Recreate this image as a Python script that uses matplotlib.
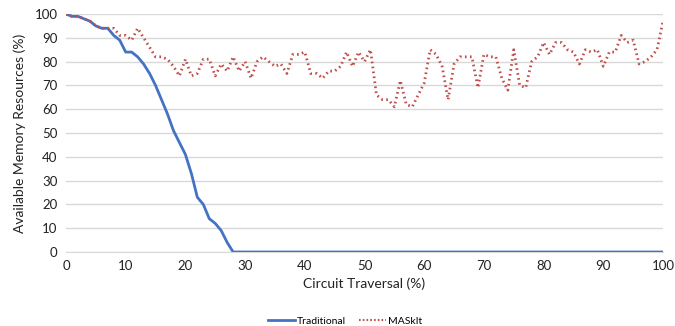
import matplotlib
matplotlib.use("Agg")
import matplotlib.pyplot as plt
from matplotlib.lines import Line2D

plt.rcParams['font.family'] = ['Lato', 'DejaVu Sans']

x_values = list(range(0, 101))

traditional = [100, 99, 99, 98, 97, 95, 94, 94, 91, 89,
               84, 84, 82, 79, 75, 70, 64, 58, 51, 46,
               41, 33, 23, 20, 14, 12, 9, 4, 0] + [0] * 72

maskit = [100, 99, 99, 98, 97, 95, 94, 94, 94, 91,
          91, 89, 94, 90, 86, 82, 82, 81, 78, 74,
          81, 74, 75, 81, 81, 74, 79, 76, 82, 76,
          80, 73, 80, 82, 80, 78, 79, 75, 83, 83,
          84, 75, 75, 73, 76, 76, 78, 84, 78, 84,
          80, 85, 66, 64, 64, 61, 72, 62, 61, 66,
          71, 85, 83, 78, 64, 79, 82, 82, 82, 69,
          83, 82, 82, 73, 68, 85, 70, 69, 80, 82,
          88, 83, 88, 88, 85, 84, 79, 85, 84, 85,
          78, 84, 84, 91, 88, 89, 79, 80, 82, 85, 97]

x_ticks = list(range(0, 101, 10))
y_ticks = list(range(0, 101, 10))

fig = plt.figure(figsize=(6.75, 3.26), dpi=100)
ax = fig.add_axes([66/675, 1 - 252/326, (663-66)/675, (252-14)/326])

blue = '#4472C4'
red = '#C0504D'
ax.plot(x_values, traditional, color=blue, lw=2.0, solid_joinstyle='round', zorder=3)
ax.plot(x_values, maskit, color=red, lw=2.0, linestyle=(0, (0.6, 1.2)),
        dash_capstyle='butt', zorder=3)

ax.set_xlim(0, 100)
ax.set_ylim(0, 100)
ax.set_xticks(x_ticks)
ax.set_yticks(y_ticks)
ax.tick_params(length=0, labelsize=9.5, colors='#222222', pad=6)
ax.grid(axis='y', color='#D9D9D9', lw=1.0)
ax.set_axisbelow(True)
for s in ['top', 'right', 'left']:
    ax.spines[s].set_visible(False)
ax.spines['bottom'].set_color('#D9D9D9')
ax.set_xlabel('Circuit Traversal (%)', fontsize=10, color='#222222', labelpad=4)
ax.set_ylabel('Available Memory Resources (%)', fontsize=10, color='#222222', labelpad=6)

handles = [Line2D([0], [0], color=blue, lw=2.0),
           Line2D([0], [0], color=red, lw=1.5, linestyle=(0, (0.8, 1.0)))]
fig.legend(handles, ['Traditional', 'MASkIt'], loc='center', bbox_to_anchor=(345/675, 1 - 321/326),
           ncol=2, frameon=False, fontsize=7.5, handlelength=2.6, columnspacing=1.2,
           handletextpad=0.2, borderaxespad=0)

fig.savefig('out.png', dpi=100)
